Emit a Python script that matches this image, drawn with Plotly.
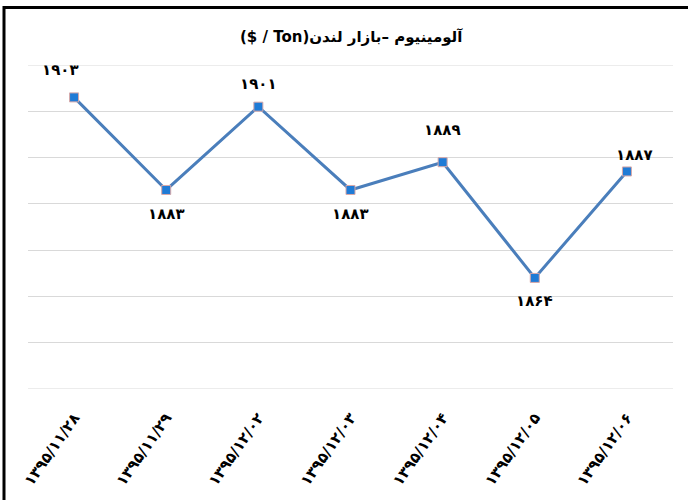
import plotly.graph_objects as go

# ---- data ----
dates = ["۱۳۹۵/۱۱/۲۸", "۱۳۹۵/۱۱/۲۹", "۱۳۹۵/۱۲/۰۲", "۱۳۹۵/۱۲/۰۳",
         "۱۳۹۵/۱۲/۰۴", "۱۳۹۵/۱۲/۰۵", "۱۳۹۵/۱۲/۰۶"]
prices = [1903, 1883, 1901, 1883, 1889, 1864, 1887]
y_min, y_max, y_step = 1840, 1910, 10
title_text = "آلومینیوم –بازار لندن(Ton / $)"

# label placement offsets (px), style only
label_dx = [-14, 0, 0, 0, 0, 0, 8]
label_dy = [27, -24, 23, -24, 32, -23, 16]

FA_DIGITS = str.maketrans("0123456789", "۰۱۲۳۴۵۶۷۸۹")


def fa(n):
    return str(n).translate(FA_DIGITS)


FONT = "DejaVu Sans"

fig = go.Figure()
fig.add_trace(go.Scatter(
    x=dates, y=prices, mode="lines+markers",
    line=dict(color="#4A7EBB", width=3),
    marker=dict(symbol="square", size=9, color="#1F7BD6",
                line=dict(color="#D8A8A8", width=1)),
    hoverinfo="x+y", showlegend=False,
))

annotations = []
for d, p, dx, dy in zip(dates, prices, label_dx, label_dy):
    annotations.append(dict(
        x=d, y=p, xref="x", yref="y", text="<b>" + fa(p) + "</b>",
        showarrow=False, xshift=dx, yshift=dy,
        font=dict(family=FONT, size=15, color="#000000"),
        xanchor="center", yanchor="middle",
    ))

W, H = 688, 500
L, R, T, B = 28, 15, 65, 111
pw, ph = W - L - R, H - T - B


def px_x(px):
    return (px - L) / pw


def px_y(py):
    return (H - B - py) / ph


annotations.append(dict(
    x=px_x(351), y=px_y(37), xref="paper", yref="paper",
    text="<b>\u202b" + title_text + "\u202c</b>", showarrow=False,
    font=dict(family=FONT, size=15, color="#000000"),
    xanchor="center", yanchor="middle",
))

shapes = [
    # frame lines (left and top)
    dict(type="line", xref="paper", yref="paper",
         x0=px_x(4), x1=px_x(4), y0=px_y(6), y1=px_y(500),
         line=dict(color="#000000", width=3)),
    dict(type="line", xref="paper", yref="paper",
         x0=px_x(3), x1=px_x(688), y0=px_y(7.5), y1=px_y(7.5),
         line=dict(color="#000000", width=3)),
]
# edge gridlines (plotly hides gridlines at the range ends)
for yv in (y_min, y_max):
    shapes.append(dict(type="line", xref="paper", yref="y",
                       x0=0, x1=1, y0=yv, y1=yv, layer="below",
                       line=dict(color="#D9D9D9", width=1)))

fig.update_layout(
    width=W, height=H,
    margin=dict(l=L, r=R, t=T, b=B),
    paper_bgcolor="#FFFFFF", plot_bgcolor="#FFFFFF",
    font=dict(family=FONT, color="#000000"),
    annotations=annotations,
    shapes=shapes,
    xaxis=dict(
        type="category", tickangle=-55, showgrid=False,
        range=[-0.5, len(dates) - 0.5],
        showline=False, ticks="", zeroline=False,
        tickfont=dict(family=FONT, size=15, color="#000000"),
        ticklabelstandoff=16,
        tickvals=dates, ticktext=["<b>" + d + "</b>" for d in dates],
    ),
    yaxis=dict(
        range=[y_min, y_max], dtick=y_step, tick0=y_min,
        showgrid=True, gridcolor="#D9D9D9", gridwidth=1,
        showticklabels=False, zeroline=False, showline=False, ticks="",
    ),
)

fig.write_html(
    "out.html",
    config={"displayModeBar": False},
    post_script="document.body.style.margin='0';document.body.style.overflow='hidden';",
)
